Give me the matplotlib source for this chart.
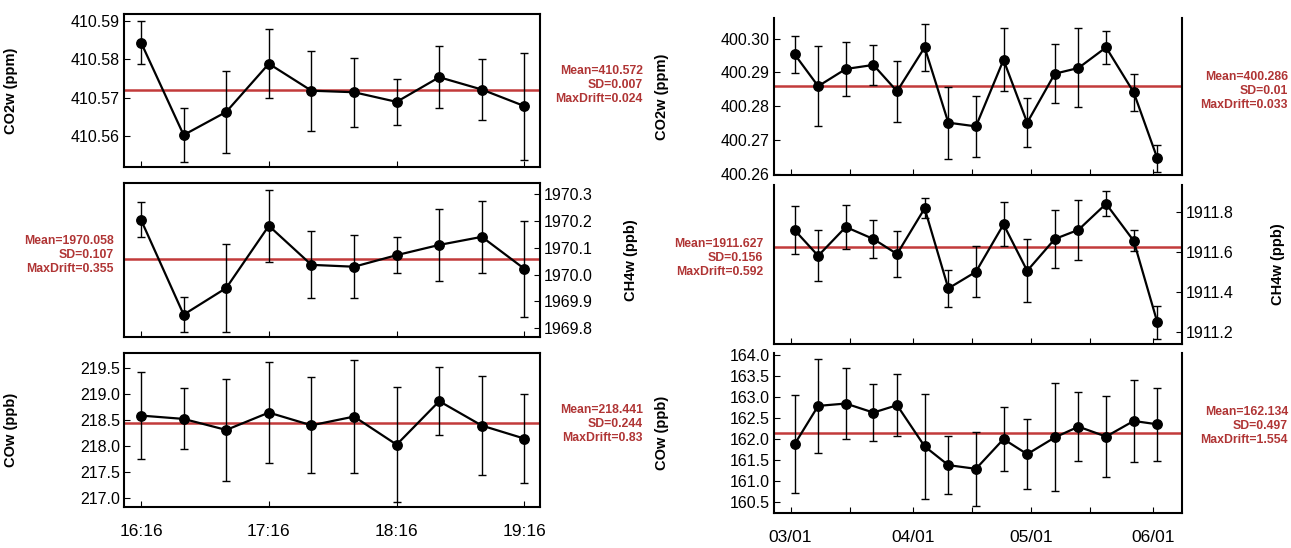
"""Drift check of CO2 / CH4 / CO standards: short run (left) and long run (right)."""
import datetime as dt
import matplotlib
matplotlib.use("Agg")
import matplotlib.pyplot as plt
import matplotlib.dates as mdates
from matplotlib.ticker import FormatStrFormatter, FixedLocator

plt.rcParams["font.family"] = ["Liberation Sans", "DejaVu Sans"]

W, H = 1291, 548
RED = "#c23b3b"
NOTE = "#b03535"

# ---- left: one afternoon, 20 min steps
left_times = ["16:16", "16:36", "16:56", "17:16", "17:36", "17:56",
              "18:16", "18:36", "18:56", "19:16"]
left_ticks = ["16:16", "17:16", "18:16", "19:16"]
left_co2 = [410.5843, 410.5603, 410.5663, 410.5788, 410.5718, 410.5714,
            410.5689, 410.5753, 410.5721, 410.5678]
left_co2_err = [0.0057, 0.0071, 0.0106, 0.0090, 0.0104, 0.0090,
                0.0059, 0.0081, 0.0080, 0.0139]
left_ch4 = [1970.203, 1969.851, 1969.950, 1970.181, 1970.036, 1970.029,
            1970.072, 1970.110, 1970.140, 1970.021]
left_ch4_err = [0.065, 0.064, 0.163, 0.134, 0.124, 0.117,
                0.067, 0.135, 0.134, 0.177]
left_co = [218.587, 218.523, 218.311, 218.645, 218.400, 218.568,
           218.028, 218.864, 218.395, 218.144]
left_co_err = [0.83, 0.585, 0.98, 0.97, 0.925, 1.08, 1.10, 0.65, 0.955, 0.862]
left_mean = [410.572, 1970.058, 218.441]
left_sd = ["0.007", "0.107", "0.244"]
left_drift = ["0.024", "0.355", "0.83"]

# ---- right: three months, ~weekly
right_dates = ["2019-03-02", "2019-03-08", "2019-03-15", "2019-03-22",
               "2019-03-28", "2019-04-04", "2019-04-10", "2019-04-17",
               "2019-04-24", "2019-04-30", "2019-05-07", "2019-05-13",
               "2019-05-20", "2019-05-27", "2019-06-02"]
right_co2 = [400.2954, 400.2859, 400.2910, 400.2922, 400.2844, 400.2974,
             400.2751, 400.2740, 400.2937, 400.2751, 400.2896, 400.2913,
             400.2974, 400.2841, 400.2645]
right_co2_err = [0.0055, 0.0118, 0.0080, 0.0058, 0.0090, 0.0070, 0.0107,
                 0.0090, 0.0093, 0.0073, 0.0088, 0.0117, 0.0048, 0.0054,
                 0.0040]
right_ch4 = [1911.712, 1911.583, 1911.727, 1911.667, 1911.592, 1911.820,
             1911.420, 1911.503, 1911.740, 1911.508, 1911.667, 1911.713,
             1911.843, 1911.658, 1911.250]
right_ch4_err = [0.120, 0.127, 0.112, 0.093, 0.117, 0.050, 0.091, 0.127,
                 0.110, 0.157, 0.143, 0.150, 0.062, 0.052, 0.083]
right_co = [161.874, 162.793, 162.849, 162.633, 162.810, 161.826, 161.378,
            161.290, 162.000, 161.640, 162.040, 162.297, 162.060, 162.433,
            162.353]
right_co_err = [1.17, 1.13, 0.84, 0.68, 0.74, 1.26, 0.70, 0.88, 0.76, 0.83,
                1.29, 0.83, 0.96, 0.97, 0.87]
right_mean = [400.286, 1911.627, 162.134]
right_sd = ["0.01", "0.156", "0.497"]
right_drift = ["0.033", "0.592", "1.554"]

ylabels = ["CO2w (ppm)", "CH4w (ppb)", "COw (ppb)"]


def rect(x0, y0, x1, y1):
    return [x0 / W, 1 - y1 / H, (x1 - x0) / W, (y1 - y0) / H]


def to_min(t):
    h, m = t.split(":")
    return int(h) * 60 + int(m)


def to_day(s):
    return mdates.date2num(dt.date.fromisoformat(s))


def panel(ax, x, y, err, mean, ylim, yticks, fmt, side):
    ax.errorbar(x, y, yerr=err, color="black", lw=1.6, marker="o", ms=6.8,
                ecolor="black", elinewidth=1, capsize=3, capthick=1, zorder=3)
    ax.axhline(mean, color=RED, lw=1.8, zorder=2)
    ax.set_ylim(*ylim)
    ax.yaxis.set_major_locator(FixedLocator(yticks))
    ax.yaxis.set_major_formatter(FormatStrFormatter(fmt))
    if side == "right":
        ax.yaxis.tick_right()
        ax.yaxis.set_label_position("right")
    ax.tick_params(axis="y", direction="in", length=4, width=0.8,
                   labelsize=11.5, pad=3)
    ax.tick_params(axis="x", direction="in", length=4, width=0.8,
                   labelsize=12.5, pad=12)
    for sp in ax.spines.values():
        sp.set_linewidth(1.5)


def note(x_px, y_px, mean, sd, drift):
    fig.text(x_px / W, 1 - y_px / H, f"Mean={mean:.3f}\nSD={sd}\nMaxDrift={drift}",
             ha="right", va="center", multialignment="right", color=NOTE,
             fontsize=8.8, fontweight="bold", linespacing=1.2,
             family=["Liberation Sans Narrow", "Liberation Sans", "DejaVu Sans"])


fig = plt.figure(figsize=(W / 100, H / 100), dpi=100)

# left column
lx0, lx1 = 124, 540
left_rows = [(14, 167), (183, 337), (353, 507)]
left_data = [(left_co2, left_co2_err), (left_ch4, left_ch4_err), (left_co, left_co_err)]
left_ylim = [(410.552, 410.5917), (1969.768, 1970.34), (216.83, 219.79)]
left_yticks = [[410.56, 410.57, 410.58, 410.59],
               [1969.8, 1969.9, 1970.0, 1970.1, 1970.2, 1970.3],
               [217.0, 217.5, 218.0, 218.5, 219.0, 219.5]]
left_fmt = ["%.2f", "%.1f", "%.1f"]
left_side = ["left", "right", "left"]
left_note_xy = [(643, 85), (114, 255), (643, 424)]

lt = [to_min(t) for t in left_times]
for i, (top, bot) in enumerate(left_rows):
    ax = fig.add_axes(rect(lx0, top, lx1, bot))
    y, e = left_data[i]
    panel(ax, lt, y, e, left_mean[i], left_ylim[i], left_yticks[i],
          left_fmt[i], left_side[i])
    ax.set_xlim(lt[0] - 8, lt[-1] + 7.3)
    ax.set_xticks([to_min(t) for t in left_ticks])
    if i == 2:
        ax.set_xticklabels(left_ticks)
    else:
        ax.set_xticklabels([])
    ax.set_ylabel(ylabels[i], fontsize=10.5, fontweight="bold")
    if left_side[i] == "left":
        ax.yaxis.set_label_coords((18 - lx0) / (lx1 - lx0), 0.5)
    else:
        ax.yaxis.set_label_coords((624 - lx0) / (lx1 - lx0), 0.5)
    note(*left_note_xy[i], left_mean[i], left_sd[i], left_drift[i])

# right column
rx0, rx1 = 774, 1182
right_rows = [(18, 175), (185, 344), (353, 513)]
right_data = [(right_co2, right_co2_err), (right_ch4, right_ch4_err), (right_co, right_co_err)]
right_ylim = [(400.2596, 400.3061), (1911.142, 1911.937), (160.235, 164.056)]
right_yticks = [[400.26, 400.27, 400.28, 400.29, 400.30],
                [1911.2, 1911.4, 1911.6, 1911.8],
                [160.5, 161.0, 161.5, 162.0, 162.5, 163.0, 163.5, 164.0]]
right_fmt = ["%.2f", "%.1f", "%.1f"]
right_side = ["left", "right", "left"]
right_note_xy = [(1288, 91), (763, 258), (1288, 426)]
right_month_ticks = ["2019-03-01", "2019-04-01", "2019-05-01", "2019-06-01"]
right_mid_ticks = ["2019-03-16", "2019-04-16", "2019-05-16"]

rd = [to_day(s) for s in right_dates]
for i, (top, bot) in enumerate(right_rows):
    ax = fig.add_axes(rect(rx0, top, rx1, bot))
    y, e = right_data[i]
    panel(ax, rd, y, e, right_mean[i], right_ylim[i], right_yticks[i],
          right_fmt[i], right_side[i])
    ax.spines["top"].set_visible(False)
    ax.set_xlim(to_day("2019-03-01") - 4.2, to_day("2019-06-01") + 7.25)
    ax.set_xticks([to_day(s) for s in right_month_ticks])
    ax.set_xticks([to_day(s) for s in right_mid_ticks], minor=True)
    ax.tick_params(axis="x", which="minor", direction="in", length=4, width=0.8)
    if i == 2:
        ax.set_xticklabels([s[5:7] + "/01" for s in right_month_ticks])
    else:
        ax.set_xticklabels([])
    ax.set_ylabel(ylabels[i], fontsize=10.5, fontweight="bold")
    if right_side[i] == "left":
        ax.yaxis.set_label_coords((669 - rx0) / (rx1 - rx0), 0.5)
    else:
        ax.yaxis.set_label_coords((1271 - rx0) / (rx1 - rx0), 0.5)
    note(*right_note_xy[i], right_mean[i], right_sd[i], right_drift[i])

fig.savefig("out.png", dpi=100)
